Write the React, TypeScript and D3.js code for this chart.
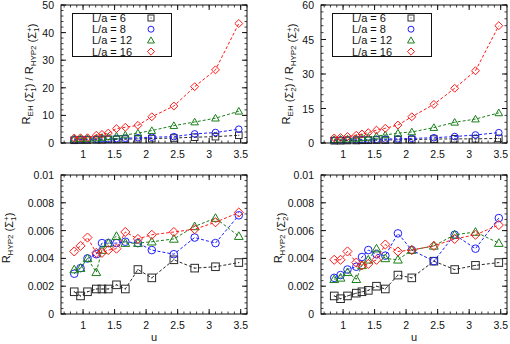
import React from 'react';
import * as d3 from 'd3';

// u values shared by every series
const uValues = [0.86, 0.96, 1.07, 1.21, 1.3, 1.4, 1.53, 1.67, 1.87, 2.09, 2.44, 2.77, 3.1, 3.47];

const sizes = ['L/a = 6', 'L/a = 8', 'L/a = 12', 'L/a = 16'];

// ratio R_EH / R_HYP2, Sigma_1
const ratio1L6 = [1.0, 1.1, 1.1, 1.2, 1.2, 1.3, 1.3, 1.4, 1.5, 1.6, 1.8, 2.1, 2.3, 2.8];
const ratio1L8 = [1.2, 1.3, 1.3, 1.4, 1.5, 1.5, 1.6, 1.7, 1.9, 2.1, 2.3, 3.3, 3.8, 5.0];
const ratio1L12 = [1.5, 1.6, 1.6, 1.8, 2.0, 2.2, 2.5, 2.9, 3.6, 4.5, 6.3, 7.6, 9.0, 11.5];
const ratio1L16 = [1.8, 1.9, 1.9, 2.8, 3.1, 3.6, 5.2, 5.7, 6.4, 9.5, 13.4, 20.4, 26.5, 43.3];

// ratio R_EH / R_HYP2, Sigma_2
const ratio2L6 = [1.0, 1.0, 1.1, 1.1, 1.2, 1.2, 1.3, 1.3, 1.4, 1.5, 1.7, 1.8, 1.8, 2.0];
const ratio2L8 = [1.2, 1.3, 1.4, 1.4, 1.5, 1.6, 1.6, 1.7, 1.8, 2.0, 2.3, 2.8, 3.5, 4.5];
const ratio2L12 = [1.5, 1.6, 1.7, 2.0, 2.3, 2.5, 3.0, 3.5, 4.3, 4.8, 6.7, 9.0, 10.4, 13.1];
const ratio2L16 = [2.2, 2.4, 2.8, 3.4, 3.9, 4.5, 5.6, 6.4, 7.8, 11.4, 16.8, 23.8, 31.4, 51.0];

// R_HYP2, Sigma_1
const hyp1L6 = [0.0016, 0.0013, 0.0016, 0.0018, 0.0018, 0.0018, 0.0021, 0.0018, 0.0032, 0.0026, 0.0039, 0.0033, 0.0034, 0.0037];
const hyp1L8 = [0.0029, 0.0033, 0.004, 0.0043, 0.0051, 0.0051, 0.0051, 0.0052, 0.0051, 0.0046, 0.0043, 0.0055, 0.0051, 0.0071];
const hyp1L12 = [0.0032, 0.0033, 0.004, 0.003, 0.0046, 0.0051, 0.0056, 0.0051, 0.0051, 0.0052, 0.0054, 0.0063, 0.0069, 0.0056];
const hyp1L16 = [0.0045, 0.0049, 0.0055, 0.0044, 0.0044, 0.0046, 0.0047, 0.0059, 0.0054, 0.0057, 0.0059, 0.0061, 0.0066, 0.0073];

// R_HYP2, Sigma_2
const hyp2L6 = [0.0013, 0.0011, 0.0013, 0.0015, 0.0016, 0.0017, 0.002, 0.0018, 0.0028, 0.0026, 0.0038, 0.0032, 0.0035, 0.0037];
const hyp2L8 = [0.0026, 0.0028, 0.0032, 0.0034, 0.0041, 0.0046, 0.0043, 0.0042, 0.0058, 0.0046, 0.0038, 0.0057, 0.0047, 0.0069];
const hyp2L12 = [0.0025, 0.0026, 0.003, 0.0025, 0.0035, 0.0039, 0.0047, 0.004, 0.0039, 0.0046, 0.0049, 0.0057, 0.0059, 0.0051];
const hyp2L16 = [0.0039, 0.0039, 0.0045, 0.0037, 0.0035, 0.0036, 0.0039, 0.005, 0.0045, 0.0046, 0.0049, 0.0054, 0.0057, 0.0064];

const xTicks = [1, 1.5, 2, 2.5, 3, 3.5];
const yTicksRatio1 = [0, 10, 20, 30, 40, 50];
const yTicksRatio2 = [0, 15, 30, 45, 60];
const yTicksHyp = [0, 0.002, 0.004, 0.006, 0.008, 0.01];

const colors = ['#2a2a2a', '#1f1fff', '#1a801a', '#ff1a1a'];
const shapes = ['square', 'circle', 'triangle', 'diamond'];
const font = 'Liberation Sans, Arial, Helvetica, sans-serif';

const Marker = ({ shape, x, y, color, s }) => {
  const common = { fill: 'none', stroke: color, strokeWidth: 1 };
  if (shape === 'square') {
    return (
      <g>
        <rect x={x - s} y={y - s} width={2 * s} height={2 * s} {...common} />
        <rect x={x - 0.5} y={y - 0.5} width={1} height={1} fill={color} />
      </g>
    );
  }
  if (shape === 'circle') return <circle cx={x} cy={y} r={s} {...common} />;
  if (shape === 'triangle') {
    const h = s * 1.15;
    return <path d={`M${x},${y - h}L${x + h},${y + h * 0.75}L${x - h},${y + h * 0.75}Z`} {...common} />;
  }
  const d = s * 1.2;
  return <path d={`M${x},${y - d}L${x + d},${y}L${x},${y + d}L${x - d},${y}Z`} {...common} />;
};

// y label: R_{sub} (Sigma_n^+) [/ R_HYP2 (Sigma_n^+)]
const YLabel = ({ x, y, sub, n, ratio }) => {
  const sigma = (key) => [
    <tspan key={key + 'a'} dy={0}> (Σ</tspan>,
    <tspan key={key + 'b'} dy={3} fontSize={8}>{n}</tspan>,
    <tspan key={key + 'c'} dx={-4.5} dy={-7.5} fontSize={8}>+</tspan>,
    <tspan key={key + 'd'} dy={4.5}>)</tspan>,
  ];
  return (
    <text transform={`translate(${x},${y}) rotate(-90)`} textAnchor="middle" fontSize={11} fontFamily={font} fill="#111">
      R<tspan dy={3} fontSize={8}>{sub}</tspan>
      <tspan dy={-3}></tspan>
      {sigma('a')}
      {ratio && <tspan> / R</tspan>}
      {ratio && <tspan dy={3} fontSize={8}>HYP2</tspan>}
      {ratio && <tspan dy={-3}></tspan>}
      {ratio && sigma('b')}
    </text>
  );
};

const Panel = ({ left, top, yDomain, yTicks, yMinor, yFormat, series, label, legend, xLabel }) => {
  const right = left + 186;
  const bottom = top === 5 ? 143 : 314;
  const x = d3.scaleLinear().domain([0.65, 3.6]).range([left, right]);
  const y = d3.scaleLinear().domain(yDomain).range([bottom, top]);
  const line = d3.line().x((d) => x(d[0])).y((d) => y(d[1]));
  const xMinor = d3.range(7, 37).map((v) => v / 10);
  const yMinorTicks = d3.range(yDomain[0], yDomain[1] + yMinor / 2, yMinor);

  return (
    <g>
      {/* minor ticks */}
      {xMinor.map((t) => (
        <g key={'xm' + t} stroke="#111" strokeWidth={0.8}>
          <line x1={x(t)} x2={x(t)} y1={bottom} y2={bottom - 2.5} />
          <line x1={x(t)} x2={x(t)} y1={top} y2={top + 2.5} />
        </g>
      ))}
      {yMinorTicks.map((t, i) => (
        <g key={'ym' + i} stroke="#111" strokeWidth={0.8}>
          <line x1={left} x2={left + 2.5} y1={y(t)} y2={y(t)} />
          <line x1={right} x2={right - 2.5} y1={y(t)} y2={y(t)} />
        </g>
      ))}
      {/* major ticks and labels */}
      {xTicks.map((t) => (
        <g key={'x' + t}>
          <line x1={x(t)} x2={x(t)} y1={bottom} y2={bottom - 5} stroke="#111" />
          <line x1={x(t)} x2={x(t)} y1={top} y2={top + 5} stroke="#111" />
          <text x={x(t)} y={bottom + 15} textAnchor="middle" fontSize={10.5} fontFamily={font} fill="#111">{t}</text>
        </g>
      ))}
      {yTicks.map((t) => (
        <g key={'y' + t}>
          <line x1={left} x2={left + 5} y1={y(t)} y2={y(t)} stroke="#111" />
          <line x1={right} x2={right - 5} y1={y(t)} y2={y(t)} stroke="#111" />
          <text x={left - 7} y={y(t) + 4} textAnchor="end" fontSize={10.5} fontFamily={font} fill="#111">{yFormat(t)}</text>
        </g>
      ))}
      {/* data */}
      {series.map((vals, si) => {
        const pts = uValues.map((u, i) => [u, vals[i]]);
        return (
          <g key={'s' + si}>
            <path d={line(pts)} fill="none" stroke={colors[si]} strokeWidth={1} strokeDasharray="3,2" />
            {pts.map((p, i) => (
              <Marker key={i} shape={shapes[si]} x={x(p[0])} y={y(p[1])} color={colors[si]} s={top === 5 ? 3.3 : 3.8} />
            ))}
          </g>
        );
      })}
      {legend && (
        <g>
          <rect x={left + 11.5} y={13.5} width={99} height={43} fill="white" stroke="#111" strokeWidth={1} />
          {sizes.map((name, i) => (
            <g key={name}>
              <text x={left + 31} y={22 + i * 11.2} fontSize={11} fontFamily={font} fill="#111">{name}</text>
              <Marker shape={shapes[i]} x={left + 90} y={18 + i * 11.2} color={colors[i]} s={3} />
            </g>
          ))}
        </g>
      )}
      <rect x={left} y={top} width={right - left} height={bottom - top} fill="none" stroke="#111" strokeWidth={1} />
      {label}
      {xLabel && (
        <text x={(left + right) / 2} y={341} textAnchor="middle" fontSize={11} fontFamily={font} fill="#111">u</text>
      )}
    </g>
  );
};

const App = () => {
  const intFormat = (d) => d3.format('d')(d);
  const hypFormat = (d) => (d === 0 ? '0' : d === 0.01 ? '0.01' : d3.format('.3f')(d));
  return (
    <svg width={510} height={344} style={{ position: 'absolute', left: 0, top: 0, background: 'white' }}>
      <Panel
        left={61} top={5} yDomain={[0, 50]} yTicks={yTicksRatio1} yMinor={2} yFormat={intFormat}
        series={[ratio1L6, ratio1L8, ratio1L12, ratio1L16]} legend
        label={<YLabel x={30} y={74} sub="EH" n="1" ratio />}
      />
      <Panel
        left={321} top={5} yDomain={[0, 60]} yTicks={yTicksRatio2} yMinor={3} yFormat={intFormat}
        series={[ratio2L6, ratio2L8, ratio2L12, ratio2L16]} legend
        label={<YLabel x={290} y={74} sub="EH" n="2" ratio />}
      />
      <Panel
        left={61} top={175} yDomain={[0, 0.01]} yTicks={yTicksHyp} yMinor={0.0004} yFormat={hypFormat}
        series={[hyp1L6, hyp1L8, hyp1L12, hyp1L16]} xLabel
        label={<YLabel x={10} y={238} sub="HYP2" n="1" />}
      />
      <Panel
        left={321} top={175} yDomain={[0, 0.01]} yTicks={yTicksHyp} yMinor={0.0004} yFormat={hypFormat}
        series={[hyp2L6, hyp2L8, hyp2L12, hyp2L16]} xLabel
        label={<YLabel x={282} y={238} sub="HYP2" n="2" />}
      />
    </svg>
  );
};

export default App;
